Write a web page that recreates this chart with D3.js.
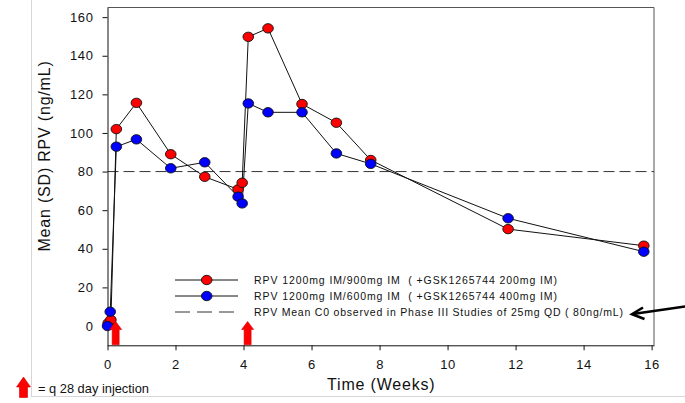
<!DOCTYPE html>
<html>
<head>
<meta charset="utf-8">
<script src="https://cdn.jsdelivr.net/npm/d3@7"></script>
<style>
  html, body { margin: 0; padding: 0; background: #fff; }
  svg { display: block; font-family: "Liberation Sans", Arial, sans-serif; }
  text { white-space: pre; }
</style>
</head>
<body>
<svg id="chart" width="685" height="403"></svg>
<script>
// ---- data ----
const weeksRed = [0.02, 0.1, 0.26, 0.85, 1.86, 2.86, 3.84, 3.96, 4.14, 4.72, 5.72, 6.73, 7.74, 11.78, 15.77];
const rpvRed   = [1.5, 3.2, 102, 115.6, 89, 77.3, 70.8, 74.2, 149.8, 154.2, 115, 105.3, 86, 50.2, 41.6];
const weeksBlue = [0, 0.08, 0.26, 0.85, 1.86, 2.86, 3.84, 3.96, 4.14, 4.72, 5.72, 6.73, 7.74, 11.78, 15.77];
const rpvBlue   = [0, 7.4, 92.9, 96.7, 81.7, 84.8, 67, 63.5, 115.3, 110.7, 110.7, 89.4, 84, 55.8, 38.5];
const referenceC0 = 80;
const injectionWeeks = [0.24, 4.12];
const xTicks = [0, 2, 4, 6, 8, 10, 12, 14, 16];
const yTicks = [0, 20, 40, 60, 80, 100, 120, 140, 160];
const legendLabels = [
  "RPV 1200mg IM/900mg IM  ( +GSK1265744 200mg IM)",
  "RPV 1200mg IM/600mg IM  ( +GSK1265744 400mg IM)",
  "RPV Mean C0 observed in Phase III Studies of 25mg QD ( 80ng/mL)"
];
const xTitle = "Time (Weeks)";
const yTitle = "Mean (SD) RPV (ng/mL)";
const noteText = "= q 28 day injection";

const redSeries = weeksRed.map((w, i) => ({ w, v: rpvRed[i] }));
const blueSeries = weeksBlue.map((w, i) => ({ w, v: rpvBlue[i] }));

// ---- layout ----
const svg = d3.select("#chart");
const pLeft = 107.5, pRight = 654, pTop = 7.5, pBottom = 345.3;
const x = d3.scaleLinear().domain([0, 16.07]).range([pLeft, pRight]);
const y = d3.scaleLinear().domain([-10, 165]).range([pBottom, pTop]);

// slide decoration lines
svg.append("line").attr("x1", 31.5).attr("x2", 31.5).attr("y1", 0).attr("y2", 397)
  .attr("stroke", "#d6d6d6").attr("stroke-width", 1);
svg.append("line").attr("x1", 31).attr("x2", 685).attr("y1", 396.5).attr("y2", 396.5)
  .attr("stroke", "#d6d6d6").attr("stroke-width", 1);

// frame (top & right)
svg.append("path")
  .attr("d", `M${pLeft},${pTop}H${pRight}V${pBottom}`)
  .attr("fill", "none").attr("stroke", "#555").attr("stroke-width", 1);

// reference line
svg.append("line")
  .attr("x1", pLeft).attr("x2", pRight)
  .attr("y1", y(referenceC0)).attr("y2", y(referenceC0))
  .attr("stroke", "#333").attr("stroke-width", 1).attr("stroke-dasharray", "11,5");

// axes
const xAxis = svg.append("g").attr("transform", `translate(0,${pBottom})`)
  .call(d3.axisBottom(x).tickValues(xTicks).tickSize(5).tickSizeOuter(0).tickPadding(9));
const yAxis = svg.append("g").attr("transform", `translate(${pLeft},0)`)
  .call(d3.axisLeft(y).tickValues(yTicks).tickSize(5).tickSizeOuter(0).tickPadding(9));
[xAxis, yAxis].forEach(g => {
  g.select(".domain").attr("stroke", "#111");
  g.selectAll(".tick line").attr("stroke", "#111");
  g.selectAll(".tick text")
    .attr("fill", "#111")
    .style("font-family", "'Liberation Sans', Arial, sans-serif")
    .style("font-size", "13px")
    .style("letter-spacing", "0.6px");
});

// series lines
const line = d3.line().x(d => x(d.w)).y(d => y(d.v));
[redSeries, blueSeries].forEach(s => {
  svg.append("path").datum(s).attr("d", line)
    .attr("fill", "none").attr("stroke", "#111").attr("stroke-width", 1);
});

// markers
function drawMarkers(data, color) {
  svg.append("g").selectAll("ellipse").data(data).join("ellipse")
    .attr("cx", d => x(d.w)).attr("cy", d => y(d.v))
    .attr("rx", 5.3).attr("ry", 4.7)
    .attr("fill", color).attr("stroke", "#111").attr("stroke-width", 0.9);
}
drawMarkers(redSeries, "#ff0000");
drawMarkers(blueSeries, "#0000ff");

// injection arrows
function upArrow(cx, yTop, yBot, headW, bodyW, headH) {
  return `M${cx},${yTop} L${cx + headW},${yTop + headH} L${cx + bodyW},${yTop + headH} ` +
         `L${cx + bodyW},${yBot} L${cx - bodyW},${yBot} L${cx - bodyW},${yTop + headH} ` +
         `L${cx - headW},${yTop + headH} Z`;
}
svg.append("g").selectAll("path").data(injectionWeeks).join("path")
  .attr("d", w => upArrow(x(w), 321.5, pBottom - 0.5, 6, 3.5, 8))
  .attr("fill", "#ff0000").attr("stroke", "#d00000").attr("stroke-width", 0.6);

// legend
const legX1 = 175, legX2 = 238, legMid = 206.7, legText = 254;
const legRows = [280, 296, 312];
const legEnds = [557, 557, 623];
svg.append("line").attr("x1", legX1).attr("x2", legX2).attr("y1", legRows[0]).attr("y2", legRows[0])
  .attr("stroke", "#111").attr("stroke-width", 1);
svg.append("ellipse").attr("cx", legMid).attr("cy", legRows[0]).attr("rx", 5.3).attr("ry", 4.7)
  .attr("fill", "#ff0000").attr("stroke", "#111").attr("stroke-width", 0.9);
svg.append("line").attr("x1", legX1).attr("x2", legX2).attr("y1", legRows[1]).attr("y2", legRows[1])
  .attr("stroke", "#111").attr("stroke-width", 1);
svg.append("ellipse").attr("cx", legMid).attr("cy", legRows[1]).attr("rx", 5.3).attr("ry", 4.7)
  .attr("fill", "#0000ff").attr("stroke", "#111").attr("stroke-width", 0.9);
svg.append("line").attr("x1", legX1).attr("x2", legX2 - 4).attr("y1", legRows[2]).attr("y2", legRows[2])
  .attr("stroke", "#333").attr("stroke-width", 1).attr("stroke-dasharray", "15,7");
legendLabels.forEach((t, i) => {
  svg.append("text").attr("x", legText).attr("y", legRows[i] + 4)
    .attr("textLength", legEnds[i] - legText).attr("lengthAdjust", "spacing")
    .style("font-size", "10.5px").attr("fill", "#111").text(t);
});

// black pointer arrow
svg.append("path").attr("d", "M685,306.5 L633,314")
  .attr("stroke", "#000").attr("stroke-width", 2.6).attr("fill", "none");
svg.append("path").attr("d", "M643,307.5 L632,314.2 L644.5,319")
  .attr("stroke", "#000").attr("stroke-width", 2.6).attr("fill", "none")
  .attr("stroke-linejoin", "miter").attr("stroke-linecap", "butt");

// axis titles
svg.append("text").attr("x", (pLeft + pRight) / 2 + 0.5).attr("y", 390)
  .attr("text-anchor", "middle").style("font-size", "16px").style("letter-spacing", "0.8px")
  .attr("fill", "#111").text(xTitle);
svg.append("text").attr("transform", "translate(50,156) rotate(-90)")
  .attr("text-anchor", "middle").style("font-size", "16px").style("letter-spacing", "0.8px")
  .attr("fill", "#111").text(yTitle);

// injection note
svg.append("path").attr("d", upArrow(23.5, 377, 397.5, 7, 4, 10))
  .attr("fill", "#ff0000").attr("stroke", "#d00000").attr("stroke-width", 0.6);
svg.append("text").attr("x", 38).attr("y", 393)
  .attr("textLength", 111).attr("lengthAdjust", "spacingAndGlyphs")
  .style("font-size", "13px").attr("fill", "#111").text(noteText);
</script>
</body>
</html>
